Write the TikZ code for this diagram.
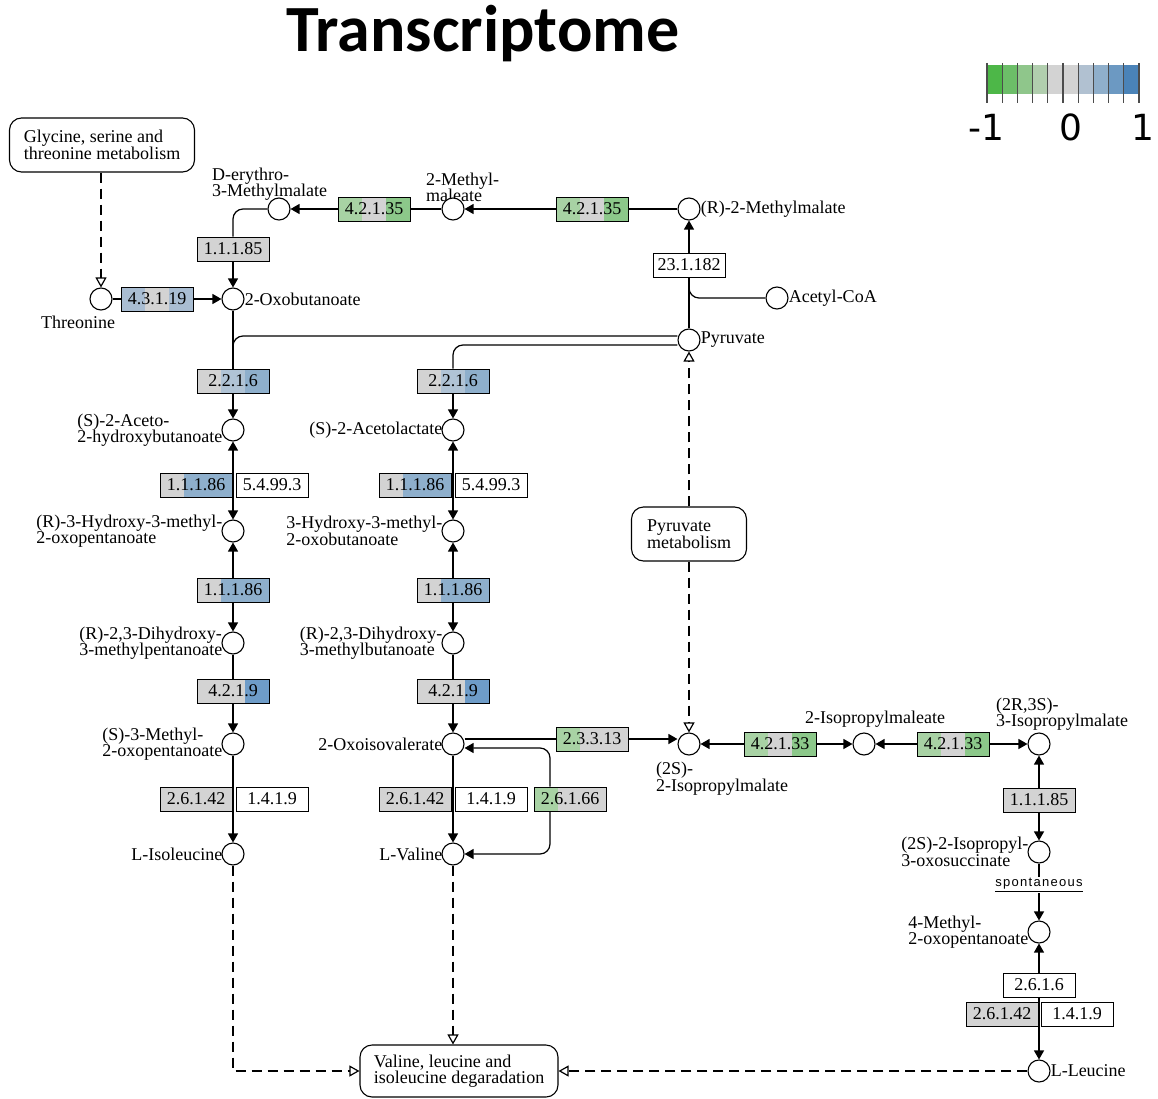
\documentclass[tikz,border=0pt]{standalone}
\usepackage{fontspec}
\setmainfont{Liberation Serif}
\newfontfamily\titlefont{Carlito}
\newfontfamily\legendfont{DejaVu Sans}
\newfontfamily\sponfont{Liberation Sans}[LetterSpace=10]
\usetikzlibrary{positioning,arrows.meta,backgrounds}
\definecolor{kGray}{HTML}{D3D3D3}
\definecolor{kGreenLt}{HTML}{A8D2A4}
\definecolor{kGreen}{HTML}{8CC88A}
\definecolor{kBlueLt}{HTML}{B0C3D5}
\definecolor{kBlue}{HTML}{8EAFCC}
\definecolor{kBlueDk}{HTML}{6E9CC8}
\definecolor{kSlate}{HTML}{A9BDD2}
\definecolor{lgA}{HTML}{4DB748}
\definecolor{lgB}{HTML}{6CBE68}
\definecolor{lgC}{HTML}{8FC68B}
\definecolor{lgD}{HTML}{B1CEAE}
\definecolor{lgE}{HTML}{D3D3D3}
\definecolor{lgF}{HTML}{D3D3D3}
\definecolor{lgG}{HTML}{B1C1D1}
\definecolor{lgH}{HTML}{8FAFCB}
\definecolor{lgI}{HTML}{6C99C2}
\definecolor{lgJ}{HTML}{4A83B8}

\begin{document}
\begin{tikzpicture}[
  x=1pt, y=-1pt,
  font=\fontsize{18}{16.5}\selectfont,
  line width=1.2pt,
  met/.style    ={circle, draw, fill=white, line width=1.1pt, minimum size=22pt, inner sep=0pt},
  lbl/.style    ={inner sep=0pt, align=left},
  enz/.style    ={draw, fill=white, line width=0.9pt, minimum width=72pt, minimum height=24pt, inner sep=0pt},
  enzg/.style   ={enz, fill=kGray},
  tri/.style n args={3}{enz, path picture={
    \fill[#1] ([xshift=-36pt,yshift=-12pt]path picture bounding box.center) rectangle ++(24pt,24pt);
    \fill[#2] ([xshift=-12pt,yshift=-12pt]path picture bounding box.center) rectangle ++(24pt,24pt);
    \fill[#3] ([xshift=12pt,yshift=-12pt]path picture bounding box.center) rectangle ++(24pt,24pt);
  }},
  pmap/.style   ={draw, fill=white, rounded corners=12pt, line width=1.1pt, align=left, inner sep=0pt},
  wire/.style   ={draw=black, line width=1.2pt},
  bent/.style   ={wire, rounded corners=10pt},
  arr/.style    ={wire, -{Triangle[length=9pt,width=10pt]}},
  rev/.style    ={wire, {Triangle[length=9pt,width=10pt]}-{Triangle[length=9pt,width=10pt]}},
  maplink/.style={wire, dash pattern=on 10pt off 6pt, -{Triangle[open,length=10pt,width=11pt]}},
]

\begin{scope}[on background layer]
  \fill[white] (0,0) rectangle (1158,1099);
\end{scope}
\useasboundingbox (0,0) rectangle (1158,1099);

% ============ Title and colour key ============
\node[font=\titlefont\bfseries\fontsize{66}{66}\selectfont, anchor=base] (title) at (483,52) {Transcriptome};

\foreach \c [count=\i from 0] in {lgA,lgB,lgC,lgD,lgE,lgF,lgG,lgH,lgI,lgJ}
  \fill[\c] (987+\i*15.2,65) rectangle ++(15.2,29);
\foreach \i in {0,...,10}
  \draw[line width=1.2pt, black!70] (987+\i*15.2,63) -- ++(0,40);

\node[font=\legendfont\fontsize{36}{36}\selectfont, anchor=base] (kmin)  at (986,141)  {-1};
\node[font=\legendfont\fontsize{36}{36}\selectfont, anchor=base] (kzero) at (1071,141) {0};
\node[font=\legendfont\fontsize{36}{36}\selectfont, anchor=base] (kmax)  at (1143,141) {1};

% ============ Metabolites ============
\node[met] (thr)  at (101,299)  {};
\node[met] (oxb)  at (233,299)  {};
\node[met] (dem)  at (279,209)  {};
\node[met] (mma)  at (453,209)  {};
\node[met] (rmm)  at (689,209)  {};
\node[met] (aco)  at (777,298)  {};
\node[met] (pyr)  at (689,340)  {};
\node[met] (ahb)  at (233,430)  {};
\node[met] (alac) at (453,430)  {};
\node[met] (hmo)  at (233,531)  {};
\node[met] (hmb)  at (453,531)  {};
\node[met] (dmp)  at (233,643)  {};
\node[met] (dmb)  at (453,643)  {};
\node[met] (mop)  at (233,744)  {};
\node[met] (oiv)  at (453,744)  {};
\node[met] (ile)  at (233,854)  {};
\node[met] (val)  at (453,854)  {};
\node[met] (ipm)  at (689,744)  {};
\node[met] (ipme) at (864,744)  {};
\node[met] (tipm) at (1039,744) {};
\node[met] (ios)  at (1039,852) {};
\node[met] (kic)  at (1039,932) {};
\node[met] (leu)  at (1039,1071) {};

% ============ Enzymes ============
\node[tri={kSlate}{kGray}{kSlate}]     (e43119)  at (157,299)  {4.3.1.19};
\node[enzg]                            (e11185a) at (233,249)  {1.1.1.85};
\node[tri={kGreenLt}{kGray}{kGreen}]   (e42135a) at (374,209)  {4.2.1.35};
\node[tri={kGreenLt}{kGray}{kGreen}]   (e42135b) at (592,209)  {4.2.1.35};
\node[enz]                             (e231182) at (689,265)  {23.1.182};
\node[tri={kGray}{kBlueLt}{kBlue}]     (e2216a)  at (233,381)  {2.2.1.6};
\node[tri={kGray}{kBlueLt}{kBlue}]     (e2216b)  at (453,381)  {2.2.1.6};
\node[tri={kGray}{kBlue}{kBlue}]       (e11186a) at (196,485)  {1.1.1.86};
\node[enz]                             (e54993a) at (272,485)  {5.4.99.3};
\node[tri={kGray}{kBlue}{kBlue}]       (e11186b) at (415,485)  {1.1.1.86};
\node[enz]                             (e54993b) at (491,485)  {5.4.99.3};
\node[tri={kGray}{kBlue}{kBlue}]       (e11186c) at (233,590)  {1.1.1.86};
\node[tri={kGray}{kBlue}{kBlue}]       (e11186d) at (453,590)  {1.1.1.86};
\node[tri={kGray}{kGray}{kBlueDk}]     (e4219a)  at (233,691)  {4.2.1.9};
\node[tri={kGray}{kGray}{kBlueDk}]     (e4219b)  at (453,691)  {4.2.1.9};
\node[enzg]                            (e26142a) at (196,799)  {2.6.1.42};
\node[enz]                             (e1419a)  at (272,799)  {1.4.1.9};
\node[enzg]                            (e26142b) at (415,799)  {2.6.1.42};
\node[enz]                             (e1419b)  at (491,799)  {1.4.1.9};
\node[tri={kGreenLt}{kGray}{kGray}]    (e26166)  at (570,799)  {2.6.1.66};
\node[tri={kGreenLt}{kGray}{kGray}]    (e23313)  at (592,739)  {2.3.3.13};
\node[tri={kGreenLt}{kGray}{kGreen}]   (e42133a) at (780,744)  {4.2.1.33};
\node[tri={kGreenLt}{kGray}{kGreen}]   (e42133b) at (953,744)  {4.2.1.33};
\node[enzg]                            (e11185b) at (1039,800) {1.1.1.85};
\node[enz]                             (e2616)   at (1039,985) {2.6.1.6};
\node[enzg]                            (e26142c) at (1002,1014) {2.6.1.42};
\node[enz]                             (e1419c)  at (1077,1014) {1.4.1.9};

\node[font=\sponfont\fontsize{13}{13}\selectfont, inner sep=1pt] (spon) at (1039,885) {\underline{spontaneous}};

% ============ Pathway maps ============
\node[pmap, minimum width=185pt, minimum height=54pt] (mgly) at (102,145)  {Glycine, serine and\\threonine metabolism};
\node[pmap, minimum width=115pt, minimum height=54pt] (mpyr) at (689,534)  {Pyruvate\\metabolism};
\node[pmap, minimum width=198pt, minimum height=52pt] (mdeg) at (459,1071) {Valine, leucine and\\isoleucine degaradation};

\begin{scope}[on background layer]
% ============ Compound names ============
\node[lbl] (tthr) at (78,322) {Threonine};
\node[lbl, right=0pt of oxb]  (toxb)  {2-Oxobutanoate};
\node[lbl, anchor=south west] (tdem) at (212,201) {D-erythro-\\3-Methylmalate};
\node[lbl, anchor=south west] (tmma) at (426,202) {2-Methyl-\\maleate};
\node[lbl, right=0pt of rmm]  (trmm)  {(R)-2-Methylmalate};
\node[lbl, right=0pt of aco]  (taco)  {Acetyl-CoA};
\node[lbl, right=0pt of pyr]  (tpyr)  {Pyruvate};
\node[lbl, left=-1pt of ahb]  (tahb)  {(S)-2-Aceto-\\2-hydroxybutanoate};
\node[lbl, left=-1pt of alac] (talac) {(S)-2-Acetolactate};
\node[lbl, left=-1pt of hmo]  (thmo)  {(R)-3-Hydroxy-3-methyl-\\2-oxopentanoate};
\node[lbl, left=-1pt of hmb]  (thmb)  {3-Hydroxy-3-methyl-\\2-oxobutanoate};
\node[lbl, left=-1pt of dmp]  (tdmp)  {(R)-2,3-Dihydroxy-\\3-methylpentanoate};
\node[lbl, left=-1pt of dmb]  (tdmb)  {(R)-2,3-Dihydroxy-\\3-methylbutanoate};
\node[lbl, left=-1pt of mop]  (tmop)  {(S)-3-Methyl-\\2-oxopentanoate};
\node[lbl, left=-1pt of oiv]  (toiv)  {2-Oxoisovalerate};
\node[lbl, left=-1pt of ile]  (tile)  {L-Isoleucine};
\node[lbl, left=-1pt of val]  (tval)  {L-Valine};
\node[lbl, anchor=north west] (tipmt) at (656,762) {(2S)-\\2-Isopropylmalate};
\node[lbl, anchor=south west] (tipme) at (805,728) {2-Isopropylmaleate};
\node[lbl, anchor=south west] (ttipm) at (996,731) {(2R,3S)-\\3-Isopropylmalate};
\node[lbl, left=-1pt of ios]  (tios)  {(2S)-2-Isopropyl-\\3-oxosuccinate};
\node[lbl, left=-1pt of kic]  (tkic)  {4-Methyl-\\2-oxopentanoate};
\node[lbl, right=0pt of leu]  (tleu)  {L-Leucine};

% ============ Reactions ============
\draw[arr] (thr) -- (oxb);
\draw[arr] (rmm) -- (mma);
\draw[arr] (mma) -- (dem);
\draw[bent] (dem) -| (e11185a);
\draw[arr] (e11185a) -- (oxb);
\draw[arr] (pyr) -- (rmm);
\draw[bent] (aco) -| (e231182);
\draw[bent] ([yshift=4pt]pyr.west) -| (e2216a);
\draw[bent] ([yshift=-5pt]pyr.west) -| (e2216b);
\draw[wire] (oxb) -- (e2216a);
\draw[arr] (e2216a) -- (ahb);
\draw[arr] (e2216b) -- (alac);
\foreach \a/\b in {ahb/hmo, hmo/dmp, alac/hmb, hmb/dmb, ipm/ipme, ipme/tipm, tipm/ios, kic/leu} {
  \draw[rev] (\a) -- (\b);
}
\foreach \a/\b in {dmp/mop, mop/ile, dmb/oiv, oiv/val} {
  \draw[arr] (\a) -- (\b);
}
\draw[arr] (oiv.east |- e23313) -- (ipm.west |- e23313);
\draw[arr, bent] ([xshift=-20pt]e26166.north) |- ([yshift=-4pt]oiv.east);
\draw[arr, bent] ([xshift=-20pt]e26166.south) |- (val);
\draw[wire] (ios) -- (spon);
\draw[arr] (spon) -- (kic);

% ============ Map links ============
\draw[maplink] (mgly.south -| thr) -- (thr);
\draw[maplink] (mpyr) -- (pyr);
\draw[maplink] (mpyr) -- (ipm);
\draw[maplink] (ile) |- (mdeg);
\draw[maplink] (val) -- (val |- mdeg.north);
\draw[maplink] (leu) -- (mdeg);
\end{scope}

\end{tikzpicture}
\end{document}
